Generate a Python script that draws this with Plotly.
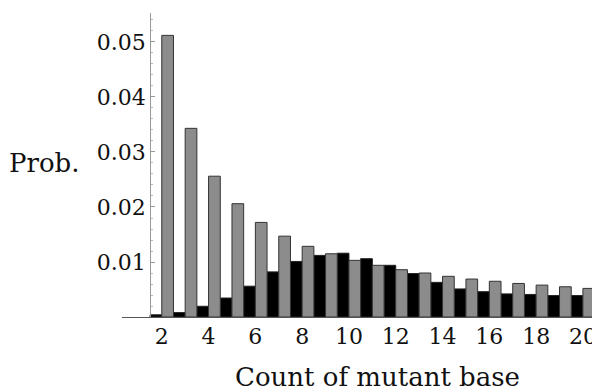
import plotly.graph_objects as go

counts = list(range(2, 21))
prob_black = [0.0004, 0.0008, 0.00195, 0.00345, 0.0056, 0.0082, 0.0101, 0.0112, 0.0116,
              0.0106, 0.0094, 0.0079, 0.0063, 0.0051, 0.0046, 0.0042, 0.0041, 0.0039, 0.0039]
prob_gray = [0.0512, 0.0343, 0.0256, 0.0206, 0.0172, 0.0147, 0.01285, 0.0115, 0.0103,
             0.0094, 0.0086, 0.0080, 0.0074, 0.0069, 0.0065, 0.0061, 0.0058, 0.0055, 0.0052]
y_ticks = [0.01, 0.02, 0.03, 0.04, 0.05]
x_ticks = [2, 4, 6, 8, 10, 12, 14, 16, 18, 20]

FONT = "DejaVu Serif"

fig = go.Figure()
fig.add_trace(go.Bar(x=counts, y=prob_black, offset=-0.5, width=0.5,
                     marker=dict(color="#000000", line=dict(color="#222222", width=1)),
                     showlegend=False))
fig.add_trace(go.Bar(x=counts, y=prob_gray, offset=0, width=0.5,
                     marker=dict(color="#8c8c8c", line=dict(color="#333333", width=1)),
                     showlegend=False))

x_lo, x_hi = 0.3, 20.73
fig.update_layout(
    width=592, height=383,
    margin=dict(l=114, r=0, t=5, b=74),
    paper_bgcolor="white", plot_bgcolor="white",
    barmode="overlay",
    font=dict(family=FONT, color="#111111", size=22),
    xaxis=dict(range=[x_lo, x_hi], tickmode="array", tickvals=x_ticks,
               ticktext=[str(v) for v in x_ticks], showgrid=False, zeroline=False,
               showline=True, linecolor="#555555", linewidth=1, ticks="",
               tickfont=dict(family=FONT, size=22, color="#111111")),
    yaxis=dict(range=[0, 0.05527], tickmode="array", tickvals=y_ticks,
               ticktext=[f"{v:.2f}" for v in y_ticks], showgrid=False, zeroline=False,
               showline=True, linecolor="#999999", linewidth=1,
               anchor="free", position=(1.5 - x_lo) / (x_hi - x_lo),
               ticks="inside", ticklen=4, tickcolor="#999999",
               minor=dict(dtick=0.002, ticks="inside", ticklen=2, tickcolor="#bbbbbb"),
               tickfont=dict(family=FONT, size=22, color="#111111")),
)

fig.add_annotation(text="Prob.", xref="paper", yref="paper", x=-0.2406, y=0.506,
                   xanchor="left", yanchor="middle", showarrow=False,
                   font=dict(family=FONT, size=26, color="#111111"))
fig.add_annotation(text="Count of mutant base", xref="paper", yref="paper",
                   x=(377 - 122) / 478, y=-(377 - 317) / 304,
                   xanchor="center", yanchor="middle", showarrow=False,
                   font=dict(family=FONT, size=26, color="#111111"))

fig.write_html("out.html")
